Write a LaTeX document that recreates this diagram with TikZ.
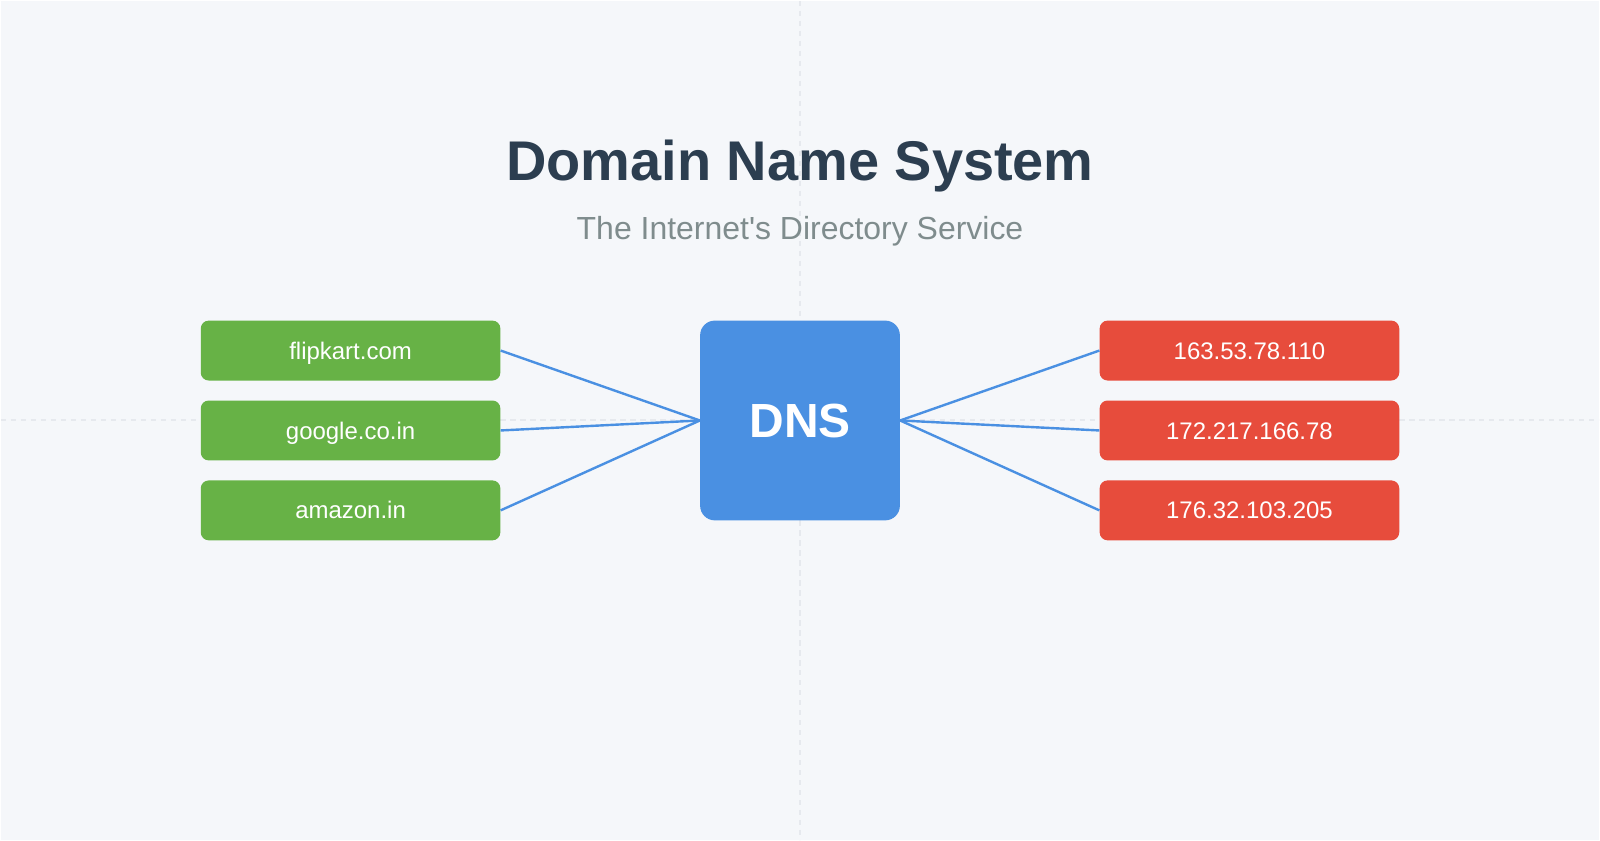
\documentclass[tikz,border=0pt]{standalone}
\usepackage{fontspec}
\setmainfont{Liberation Sans}
\definecolor{bgcol}{HTML}{F5F7FA}
\definecolor{gridcol}{HTML}{E6E9EE}
\definecolor{titlecol}{HTML}{2C3E50}
\definecolor{subcol}{HTML}{7F8C8D}
\definecolor{domaincol}{HTML}{67B246}
\definecolor{ipcol}{HTML}{E74C3C}
\definecolor{dnscol}{HTML}{4A90E2}
\tikzset{
    domainbox/.style={fill=domaincol,rounded corners=6pt,minimum width=225pt,minimum height=45pt,
        text=white,font=\fontsize{18}{18}\selectfont,text height=12.9pt,text depth=0pt,inner sep=0pt},
    ipbox/.style={domainbox,fill=ipcol},
    link/.style={draw=dnscol,line width=1.8pt}
}
\begin{document}
\begin{tikzpicture}[x=0.75pt,y=-0.75pt]
        \fill[bgcol] (0,0) rectangle (1600,840);
        \draw[gridcol,line width=1.5pt,dash pattern=on 4pt off 3.5pt] (800,0) -- (800,840);
        \draw[gridcol,line width=1.5pt,dash pattern=on 4pt off 3.5pt] (0,420) -- (1600,420);
        \node (title) at (800,180) [anchor=base,text=titlecol,font=\fontsize{42}{42}\selectfont\bfseries] {Domain Name System};
        \node (subtitle) at (800,239) [anchor=base,text=subcol,font=\fontsize{24}{24}\selectfont] {The Internet\textquotesingle s Directory Service};
        \node (dns) at (800,420) [fill=dnscol,rounded corners=11pt,minimum size=150pt,inner sep=0pt,
            text=white,font=\fontsize{36}{36}\selectfont\bfseries,text height=25.8pt,text depth=0pt] {DNS};
        \node (flipkart) at (350,350) [domainbox] {flipkart.com};
        \node (google) at (350,430) [domainbox] {google.co.in};
        \node (amazon) at (350,510) [domainbox] {amazon.in};
        \node (ipa) at (1250,350) [ipbox] {163.53.78.110};
        \node (ipb) at (1250,430) [ipbox] {172.217.166.78};
        \node (ipc) at (1250,510) [ipbox] {176.32.103.205};
        \draw[link] (flipkart.east) -- (dns.west);
        \draw[link] (google.east) -- (dns.west);
        \draw[link] (amazon.east) -- (dns.west);
        \draw[link] (dns.east) -- (ipa.west);
        \draw[link] (dns.east) -- (ipb.west);
        \draw[link] (dns.east) -- (ipc.west);
    \end{tikzpicture}
\end{document}
